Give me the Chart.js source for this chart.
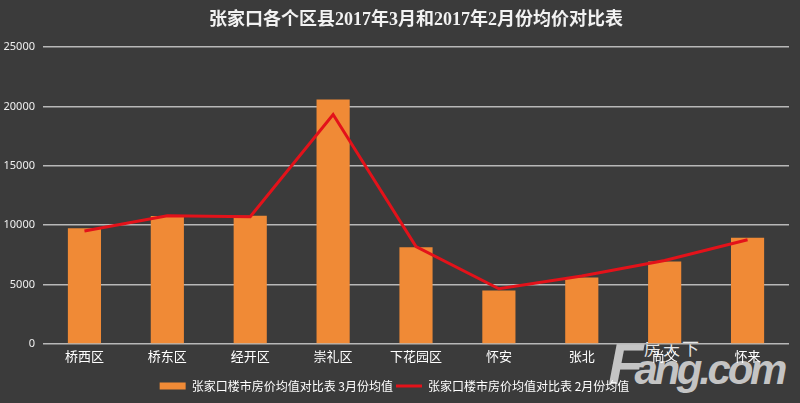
<!DOCTYPE html>
<html>
<head>
<meta charset="utf-8">
<script src="https://cdn.jsdelivr.net/npm/chart.js@4"></script>
<style>
  html, body { margin: 0; padding: 0; background: #3b3b3b; }
  #wrap { position: relative; width: 800px; height: 403px; overflow: hidden; }
  #logo { position: absolute; left: 608px; top: 336px; font-family: "Liberation Sans", Arial, sans-serif;
          font-weight: bold; font-style: italic; color: #c4c4c4; line-height: 56px; font-size: 56px; white-space: nowrap; z-index: 0; }
  #logo .big { font-size: 58px; letter-spacing: -9px; }
  #logo .small { font-size: 42px; letter-spacing: -3.3px; }
  #logo2 { position: absolute; left: 644px; top: 335px; font-family: "Noto Sans CJK SC", sans-serif; font-size: 17px;
           letter-spacing: 2px; color: #e6e6e6; z-index: 0; white-space: nowrap; }
  canvas { position: absolute; left: 0; top: 0; z-index: 1; }
</style>
</head>
<body>
<div id="wrap">
  <div id="logo"><span class="big">F</span><span class="small">ang.com</span></div>
  <div id="logo2">房天下</div>
  <canvas id="c" width="800" height="403"></canvas>
</div>
<script>
const titleText = '张家口各个区县2017年3月和2017年2月份均价对比表';
const categories = ['桥西区', '桥东区', '经开区', '崇礼区', '下花园区', '怀安', '张北', '尚义', '怀来'];
const marchLabel = '张家口楼市房价均值对比表 3月份均值';
const febLabel = '张家口楼市房价均值对比表 2月份均值';
const marchValues = [9750, 10780, 10800, 20580, 8150, 4500, 5600, 6940, 8950];
const febValues = [9520, 10800, 10720, 19320, 8200, 4650, 5720, 7030, 8780];
const yMax = 25000;
const yStep = 5000;

const titlePlugin = {
  id: 'customTitle',
  afterDraw(chart) {
    const ctx = chart.ctx;
    const a = chart.chartArea;
    ctx.save();
    ctx.fillStyle = '#f2f2f2';
    ctx.font = 'bold 18px "Liberation Serif", "Noto Sans CJK SC", serif';
    ctx.textAlign = 'center';
    ctx.textBaseline = 'middle';
    ctx.fillText(titleText, (a.left + a.right) / 2, 20);
    ctx.restore();
  }
};

new Chart(document.getElementById('c'), {
  data: {
    labels: categories,
    datasets: [
      {
        type: 'bar',
        label: marchLabel,
        data: marchValues,
        backgroundColor: '#f08a36',
        borderWidth: 0,
        barPercentage: 0.4,
        categoryPercentage: 1.0,
        order: 2
      },
      {
        type: 'line',
        label: febLabel,
        data: febValues,
        borderColor: '#e3121a',
        backgroundColor: '#e3121a',
        borderWidth: 3,
        pointRadius: 0,
        tension: 0,
        fill: false,
        order: 1
      }
    ]
  },
  options: {
    responsive: false,
    animation: false,
    layout: { padding: { left: 0, right: 11, top: 47, bottom: 1 } },
    scales: {
      x: {
        grid: { display: false, drawTicks: false },
        border: { display: false },
        ticks: { color: '#ffffff', font: { size: 13, family: '"Noto Sans CJK SC", sans-serif' }, padding: 4, maxRotation: 0, autoSkip: false },
        afterFit(scale) { scale.height = 33; }
      },
      y: {
        min: 0,
        max: yMax,
        ticks: { stepSize: yStep, color: '#f0f0f0', font: { size: 11, family: '"Noto Sans", sans-serif' }, padding: 8,
                 callback: (v) => String(v) },
        grid: { color: '#b8b8b8', lineWidth: 1.5, drawTicks: false },
        border: { display: false },
        afterFit(scale) { scale.width = 43; }
      }
    },
    plugins: {
      title: { display: false },
      tooltip: { enabled: false },
      legend: {
        position: 'bottom',
        labels: {
          color: '#ffffff',
          font: { size: 12, family: '"Noto Sans CJK SC", sans-serif' },
          usePointStyle: true,
          pointStyleWidth: 26,
          boxHeight: 7,
          padding: 3,
          sort: (a, b) => a.datasetIndex - b.datasetIndex,
          generateLabels(chart) {
            const items = Chart.defaults.plugins.legend.labels.generateLabels(chart);
            items.forEach(it => {
              if (it.datasetIndex === 0) {
                it.pointStyle = 'rect';
                it.fillStyle = '#f08a36';
                it.strokeStyle = '#f08a36';
                it.lineWidth = 0;
              } else {
                it.pointStyle = 'line';
                it.strokeStyle = '#e3121a';
                it.fillStyle = '#e3121a';
                it.lineWidth = 3;
              }
            });
            return items;
          }
        }
      }
    }
  },
  plugins: [titlePlugin]
});
</script>
</body>
</html>
